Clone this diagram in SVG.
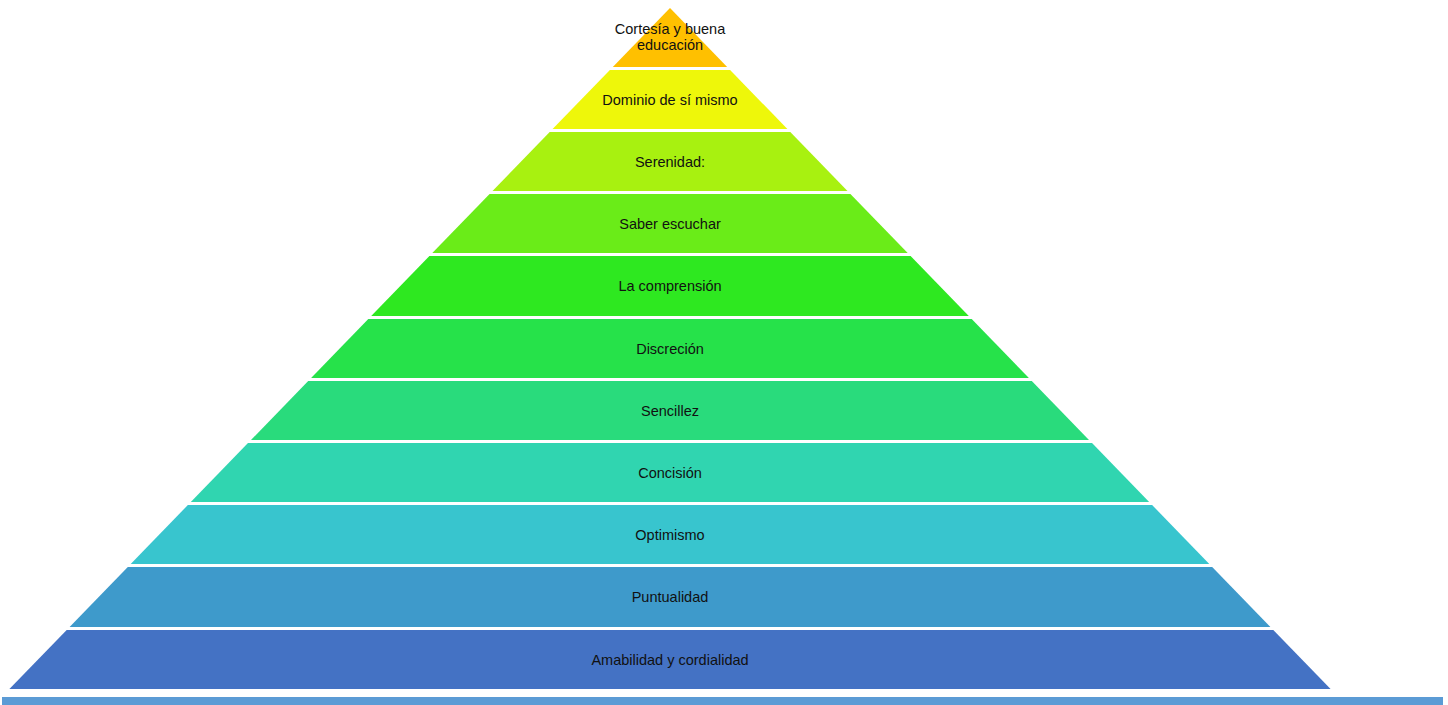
<svg xmlns="http://www.w3.org/2000/svg" width="1448" height="705" viewBox="0 0 1448 705">
<style>
text{font-family:"Liberation Sans",Arial,sans-serif;font-size:14.5px;fill:#111;text-anchor:middle;dominant-baseline:central}
</style>
<rect width="1448" height="705" fill="#fff"/>
<g id="layer0"><polygon points="670,8 727.2,67 612.8,67" fill="#FFC000"/><text x="670" y="29">Cortesía y buena</text><text x="670" y="45">educación</text></g>
<g id="layer1"><polygon points="609.9,70 730.1,70 787.4,129 552.6,129" fill="#EEF70A"/><text x="670" y="100">Dominio de sí mismo</text></g>
<g id="layer2"><polygon points="549.7,132 790.3,132 847.5,191 492.5,191" fill="#A8F110"/><text x="670" y="162">Serenidad:</text></g>
<g id="layer3"><polygon points="489.6,194 850.4,194 907.7,253 432.3,253" fill="#6AEC18"/><text x="670" y="224">Saber escuchar</text></g>
<g id="layer4"><polygon points="429.4,256 910.6,256 968.8,316 371.2,316" fill="#2EE820"/><text x="670" y="286">La comprensión</text></g>
<g id="layer5"><polygon points="368.3,319 971.7,319 1028.9,378 311.1,378" fill="#26E24A"/><text x="670" y="349">Discreción</text></g>
<g id="layer6"><polygon points="308.2,381 1031.8,381 1089,440 251,440" fill="#29DB7C"/><text x="670" y="411">Sencillez</text></g>
<g id="layer7"><polygon points="248,443 1092,443 1149.2,502 190.8,502" fill="#30D5B0"/><text x="670" y="473">Concisión</text></g>
<g id="layer8"><polygon points="187.9,505 1152.1,505 1209.3,564 130.7,564" fill="#38C5CE"/><text x="670" y="535">Optimismo</text></g>
<g id="layer9"><polygon points="127.8,567 1212.2,567 1270.4,627 69.6,627" fill="#3E9ACB"/><text x="670" y="597">Puntualidad</text></g>
<g id="layer10"><polygon points="66.7,630 1273.3,630 1330.6,689 9.4,689" fill="#4472C4"/><text x="670" y="660">Amabilidad y cordialidad</text></g>
<g id="base"><rect x="2" y="697" width="1441" height="8" fill="#5B9BD5"/></g>
</svg>
